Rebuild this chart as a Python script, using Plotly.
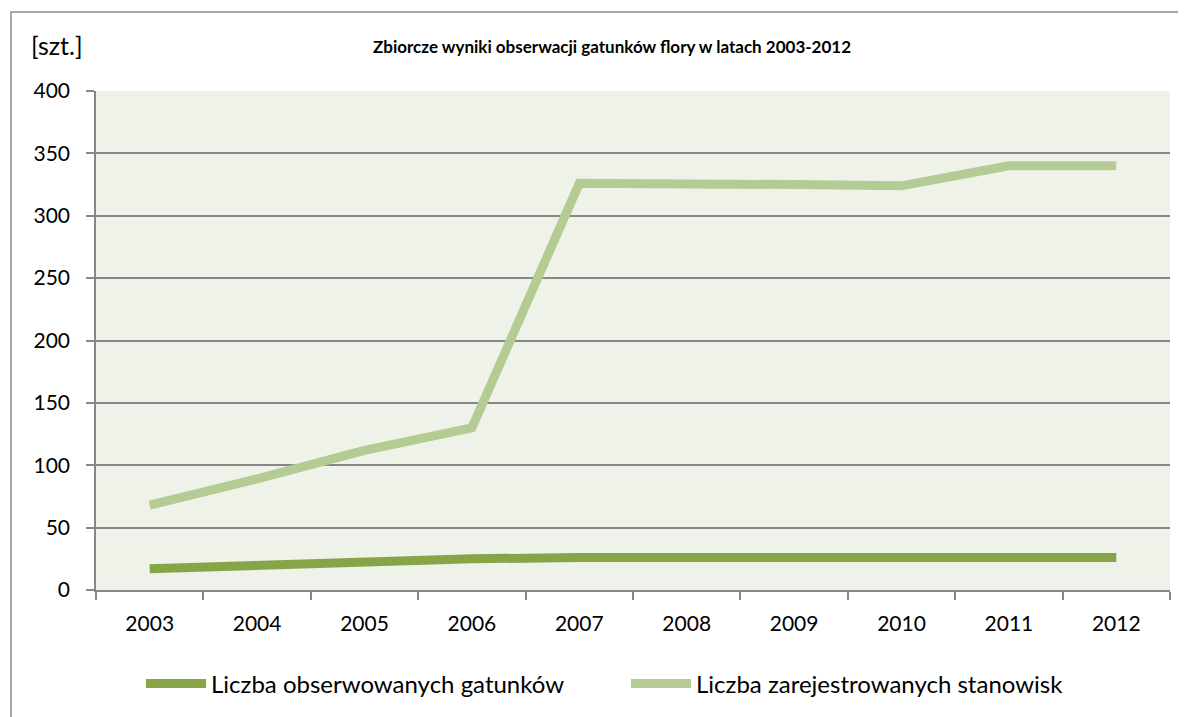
import plotly.graph_objects as go

years = ["2003", "2004", "2005", "2006", "2007", "2008", "2009", "2010", "2011", "2012"]
species = [17, 20, 22, 25, 26, 26, 26, 26, 26, 26]
stations = [68, 89, 112, 130, 326, 326, 325, 324, 340, 340]
y_ticks = [0, 50, 100, 150, 200, 250, 300, 350, 400]

FONT = "Lato"
dark = "#86a548"
light = "#b5cb94"
grid = "#878787"

fig = go.Figure()
fig.add_trace(go.Scatter(x=years, y=species, mode="lines", name="Liczba obserwowanych gatunków",
                         line=dict(color=dark, width=9)))
fig.add_trace(go.Scatter(x=years, y=stations, mode="lines", name="Liczba zarejestrowanych stanowisk",
                         line=dict(color=light, width=9)))

OFF = 8  # default page body margin
W, H = 1186, 717
L, R, T, B = 96 - OFF, 1170 - OFF, 91 - OFF, 590 - OFF
pw, ph = R - L, B - T

def px(x):
    return (x - OFF - L) / pw

def py(y):
    return (B - (y - OFF)) / ph

frame_path = "M {x0},{yb} L {x0},{yt} L {xr},{yt}".format(
    x0=px(11), yb=py(760), yt=py(12), xr=px(1250))

fig.update_layout(
    width=W, height=H,
    margin=dict(l=L, r=W - R, t=T, b=H - B, autoexpand=False),
    paper_bgcolor="white",
    plot_bgcolor="#eff2e9",
    font=dict(family=FONT, size=21, color="black"),
    showlegend=True,
    legend=dict(orientation="h", x=px(141), xanchor="left", y=py(684), yanchor="middle",
                font=dict(family=FONT, size=24), itemwidth=60, entrywidth=410,
                bgcolor="rgba(0,0,0,0)"),
    xaxis=dict(type="category", showgrid=False, showline=True, linecolor=grid, linewidth=1.5,
               ticks="outside", tickson="boundaries", ticklen=8, tickcolor=grid, tickwidth=1.5,
               ticklabelstandoff=14,
               tickfont=dict(family=FONT, size=21), range=[-0.5, 9.5]),
    yaxis=dict(range=[0, 400], tickvals=y_ticks, showgrid=True, gridcolor=grid, gridwidth=1.5,
               showline=True, linecolor=grid, linewidth=1.5, ticks="outside", ticklen=8,
               tickcolor=grid, tickwidth=1.5, zeroline=False, ticklabelstandoff=12,
               tickfont=dict(family=FONT, size=21)),
    annotations=[
        dict(text="[szt.]", xref="paper", yref="paper", x=px(29), y=py(45), xanchor="left",
             yanchor="middle", showarrow=False, font=dict(family=FONT, size=25)),
        dict(text="<b>Zbiorcze wyniki obserwacji gatunków flory w latach 2003-2012</b>",
             xref="paper", yref="paper", x=px(612), y=py(46), xanchor="center", yanchor="middle",
             showarrow=False, font=dict(family=FONT, size=17)),
    ],
    shapes=[
        dict(type="path", xref="paper", yref="paper", path=frame_path,
             line=dict(color="#8c8c8c", width=1.5), layer="below"),
    ],
)

fig.write_html("out.html", post_script="document.body.style.overflow='hidden';")
